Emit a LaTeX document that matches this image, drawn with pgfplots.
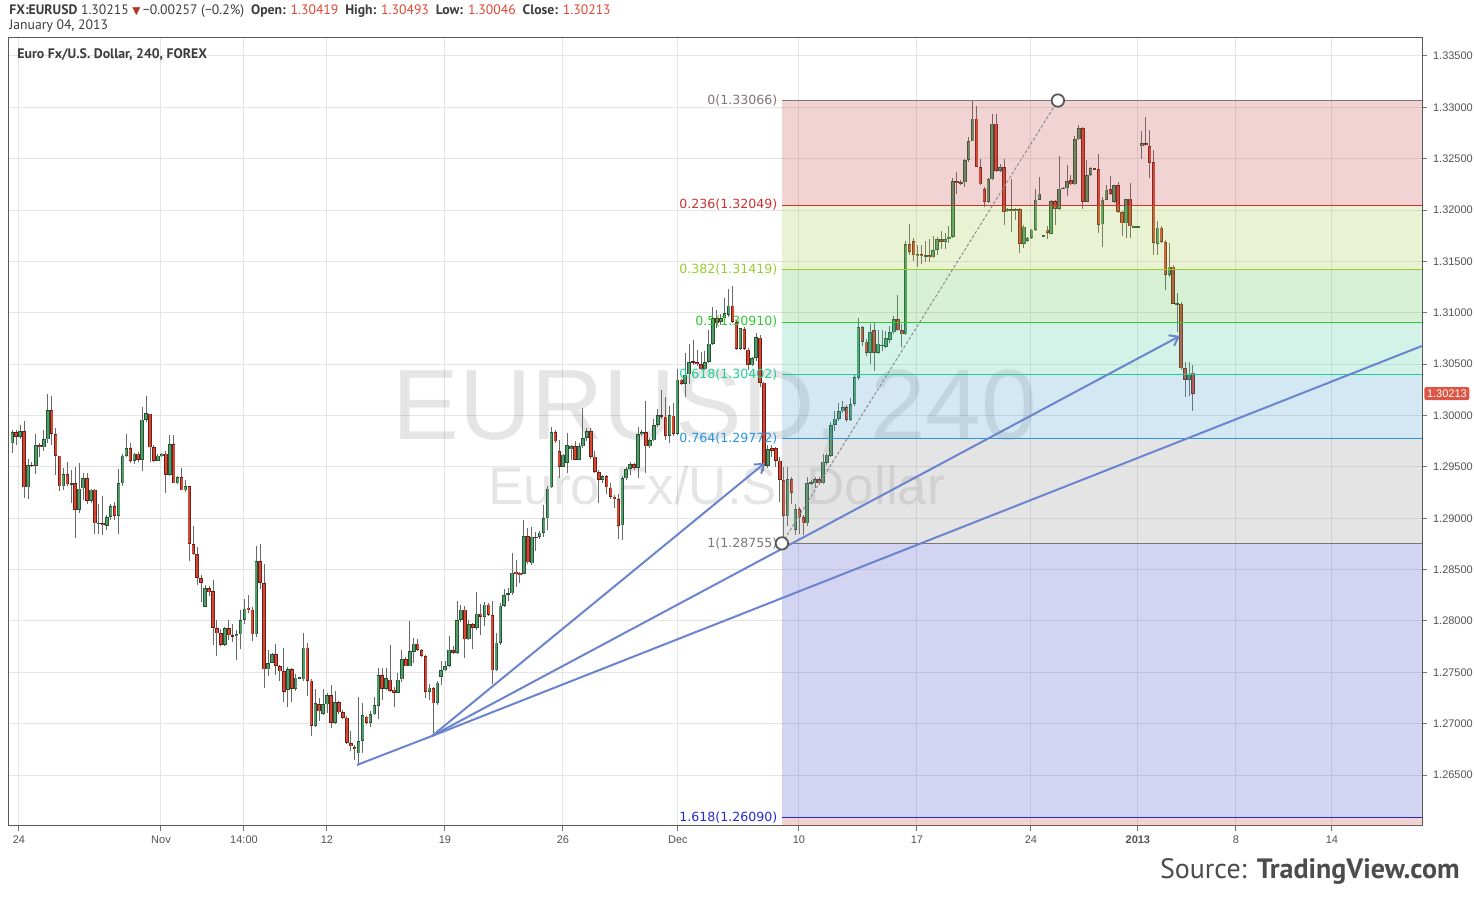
\documentclass[border=0pt]{standalone}
\usepackage{pgfplots}
\pgfplotsset{compat=1.18}
\usepackage{pgfplotstable}
\usepackage{fontspec}
\setmainfont{Liberation Sans}
\newfontfamily\ptsans{PT Sans}
\newfontfamily\dejavu{DejaVu Sans}
\usetikzlibrary{arrows.meta}

% candle colours
\definecolor{upfill}{RGB}{83,155,105}
\definecolor{upline}{RGB}{34,85,52}
\definecolor{dnfill}{RGB}{214,72,52}
\definecolor{dnline}{RGB}{110,30,20}
\definecolor{wick}{RGB}{105,105,105}
\definecolor{gridc}{RGB}{228,228,228}
\definecolor{fan}{RGB}{106,133,206}
% fib bands (drawn at opacity 0.25)
\definecolor{bRed}{RGB}{203,79,79}
\definecolor{bYel}{RGB}{167,207,79}
\definecolor{bGrn}{RGB}{87,195,79}
\definecolor{bMint}{RGB}{79,203,163}
\definecolor{bBlue}{RGB}{79,163,203}
\definecolor{bGray}{RGB}{147,147,147}
\definecolor{bLav}{RGB}{79,79,203}
% fib lines
\definecolor{l0}{RGB}{128,118,118}
\definecolor{l236}{RGB}{204,51,51}
\definecolor{l382}{RGB}{153,204,51}
\definecolor{l5}{RGB}{51,200,51}
\definecolor{l618}{RGB}{34,204,150}
\definecolor{l764}{RGB}{41,150,220}
\definecolor{l1}{RGB}{120,120,120}
\definecolor{l1618}{RGB}{40,40,210}
\definecolor{tagred}{RGB}{221,85,68}
\definecolor{hdred}{RGB}{222,70,50}
\definecolor{hdgray}{RGB}{60,60,60}

% 4h candles, EUR/USD, index i = bar number
\pgfplotstableread{
i O H L C
0 1.2973 1.2986 1.2964 1.2984
1 1.2984 1.2986 1.2971 1.2979
2 1.2979 1.2991 1.2977 1.2985
3 1.2985 1.2995 1.2920 1.2930
4 1.2930 1.2958 1.2919 1.2952
5 1.2952 1.2955 1.2950 1.2951
6 1.2951 1.2982 1.2943 1.2971
7 1.2971 1.2973 1.2960 1.2969
8 1.2969 1.2986 1.2966 1.2977
9 1.2977 1.3021 1.2973 1.3005
10 1.3005 1.3019 1.2971 1.2982
11 1.2982 1.2988 1.2942 1.2961
12 1.2961 1.2961 1.2927 1.2931
13 1.2931 1.2949 1.2927 1.2943
14 1.2943 1.2955 1.2931 1.2933
15 1.2933 1.2947 1.2915 1.2934
16 1.2934 1.2950 1.2881 1.2908
17 1.2908 1.2954 1.2905 1.2929
18 1.2929 1.2944 1.2918 1.2939
19 1.2939 1.2944 1.2914 1.2917
20 1.2917 1.2929 1.2915 1.2928
21 1.2928 1.2928 1.2885 1.2895
22 1.2895 1.2914 1.2885 1.2895
23 1.2895 1.2922 1.2884 1.2893
24 1.2893 1.2903 1.2889 1.2901
25 1.2901 1.2914 1.2898 1.2912
26 1.2912 1.2916 1.2898 1.2902
27 1.2902 1.2948 1.2885 1.2934
28 1.2934 1.2963 1.2931 1.2961
29 1.2961 1.2982 1.2960 1.2968
30 1.2968 1.2973 1.2954 1.2956
31 1.2956 1.2964 1.2953 1.2963
32 1.2963 1.2965 1.2955 1.2957
33 1.2957 1.3008 1.2946 1.2996
34 1.2996 1.3019 1.2994 1.3002
35 1.3002 1.3002 1.2955 1.2969
36 1.2969 1.2971 1.2955 1.2956
37 1.2956 1.2963 1.2956 1.2961
38 1.2961 1.2964 1.2960 1.2963
39 1.2963 1.2966 1.2925 1.2942
40 1.2942 1.2981 1.2941 1.2972
41 1.2972 1.2981 1.2934 1.2934
42 1.2934 1.2941 1.2933 1.2940
43 1.2940 1.2949 1.2927 1.2927
44 1.2927 1.2937 1.2926 1.2931
45 1.2931 1.2931 1.2858 1.2875
46 1.2875 1.2892 1.2864 1.2865
47 1.2865 1.2872 1.2835 1.2842
48 1.2842 1.2845 1.2819 1.2837
49 1.2814 1.2835 1.2814 1.2832
50 1.2832 1.2834 1.2824 1.2828
51 1.2829 1.2840 1.2777 1.2793
52 1.2793 1.2801 1.2766 1.2788
53 1.2788 1.2792 1.2776 1.2777
54 1.2777 1.2794 1.2776 1.2793
55 1.2793 1.2801 1.2781 1.2786
56 1.2786 1.2797 1.2780 1.2785
57 1.2785 1.2791 1.2762 1.2787
58 1.2787 1.2811 1.2773 1.2801
59 1.2801 1.2821 1.2797 1.2812
60 1.2813 1.2825 1.2808 1.2811
61 1.2811 1.2814 1.2781 1.2787
62 1.2787 1.2873 1.2784 1.2858
63 1.2858 1.2875 1.2831 1.2837
64 1.2837 1.2855 1.2735 1.2753
65 1.2753 1.2772 1.2746 1.2759
66 1.2759 1.2769 1.2759 1.2768
67 1.2768 1.2778 1.2747 1.2756
68 1.2756 1.2757 1.2742 1.2751
69 1.2751 1.2774 1.2721 1.2731
70 1.2733 1.2755 1.2716 1.2753
71 1.2753 1.2754 1.2721 1.2734
72 1.2734 1.2748 1.2732 1.2745
73 1.2745 1.2746 1.2744 1.2745
74 1.2743 1.2788 1.2742 1.2774
75 1.2774 1.2779 1.2727 1.2742
76 1.2742 1.2743 1.2688 1.2698
77 1.2698 1.2734 1.2697 1.2720
78 1.2719 1.2725 1.2703 1.2712
79 1.2710 1.2734 1.2708 1.2719
80 1.2719 1.2730 1.2710 1.2728
81 1.2728 1.2738 1.2696 1.2701
82 1.2701 1.2732 1.2700 1.2721
83 1.2721 1.2722 1.2710 1.2711
84 1.2711 1.2713 1.2705 1.2706
85 1.2706 1.2707 1.2680 1.2681
86 1.2681 1.2693 1.2673 1.2678
87 1.2677 1.2679 1.2665 1.2675
88 1.2671 1.2726 1.2660 1.2683
89 1.2683 1.2720 1.2671 1.2708
90 1.2707 1.2708 1.2700 1.2701
91 1.2701 1.2712 1.2697 1.2709
92 1.2709 1.2726 1.2708 1.2718
93 1.2717 1.2754 1.2705 1.2747
94 1.2747 1.2754 1.2723 1.2734
95 1.2734 1.2754 1.2733 1.2744
96 1.2743 1.2777 1.2731 1.2732
97 1.2733 1.2736 1.2716 1.2730
98 1.2730 1.2749 1.2730 1.2743
99 1.2743 1.2772 1.2741 1.2763
100 1.2763 1.2765 1.2756 1.2756
101 1.2756 1.2800 1.2756 1.2771
102 1.2770 1.2783 1.2759 1.2778
103 1.2778 1.2782 1.2771 1.2772
104 1.2772 1.2773 1.2765 1.2766
105 1.2766 1.2767 1.2725 1.2731
106 1.2731 1.2739 1.2723 1.2735
107 1.2735 1.2736 1.2691 1.2720
108 1.2720 1.2742 1.2718 1.2740
109 1.2746 1.2761 1.2738 1.2752
110 1.2752 1.2761 1.2751 1.2756
111 1.2756 1.2785 1.2755 1.2772
112 1.2772 1.2776 1.2768 1.2769
113 1.2769 1.2820 1.2768 1.2801
114 1.2801 1.2816 1.2799 1.2811
115 1.2811 1.2815 1.2764 1.2782
116 1.2782 1.2801 1.2781 1.2797
117 1.2797 1.2798 1.2773 1.2793
118 1.2793 1.2828 1.2791 1.2807
119 1.2807 1.2817 1.2786 1.2804
120 1.2804 1.2819 1.2795 1.2816
121 1.2816 1.2818 1.2805 1.2806
122 1.2806 1.2820 1.2739 1.2752
123 1.2752 1.2788 1.2751 1.2779
124 1.2779 1.2817 1.2777 1.2815
125 1.2815 1.2831 1.2814 1.2825
126 1.2826 1.2832 1.2819 1.2827
127 1.2827 1.2866 1.2825 1.2847
128 1.2848 1.2859 1.2833 1.2846
129 1.2847 1.2848 1.2837 1.2845
130 1.2846 1.2898 1.2846 1.2883
131 1.2883 1.2890 1.2855 1.2857
132 1.2856 1.2892 1.2855 1.2882
133 1.2882 1.2887 1.2868 1.2881
134 1.2882 1.2888 1.2880 1.2886
135 1.2886 1.2913 1.2882 1.2900
136 1.2900 1.2931 1.2889 1.2929
137 1.2930 1.2989 1.2929 1.2984
138 1.2984 1.2986 1.2973 1.2975
139 1.2965 1.2976 1.2939 1.2950
140 1.2950 1.2963 1.2950 1.2962
141 1.2954 1.2983 1.2944 1.2971
142 1.2967 1.2971 1.2957 1.2970
143 1.2970 1.2975 1.2957 1.2957
144 1.2957 1.2973 1.2957 1.2970
145 1.2970 1.3007 1.2968 1.2978
146 1.2978 1.2988 1.2975 1.2985
147 1.2985 1.2988 1.2958 1.2960
148 1.2960 1.2966 1.2944 1.2945
149 1.2945 1.2947 1.2915 1.2937
150 1.2937 1.2942 1.2934 1.2941
151 1.2941 1.2942 1.2924 1.2930
152 1.2930 1.2934 1.2919 1.2921
153 1.2921 1.2923 1.2910 1.2919
154 1.2919 1.2924 1.2880 1.2893
155 1.2893 1.2941 1.2879 1.2939
156 1.2939 1.2950 1.2937 1.2948
157 1.2948 1.2955 1.2942 1.2953
158 1.2953 1.2954 1.2947 1.2949
159 1.2949 1.2989 1.2939 1.2982
160 1.2982 1.2986 1.2980 1.2984
161 1.2984 1.3014 1.2944 1.2970
162 1.2970 1.2978 1.2968 1.2976
163 1.2976 1.2997 1.2975 1.2991
164 1.2991 1.3006 1.2989 1.3000
165 1.3000 1.3025 1.2997 1.2999
166 1.2999 1.3018 1.2976 1.2980
167 1.2980 1.3009 1.2973 1.3000
168 1.3000 1.3012 1.2980 1.2982
169 1.2982 1.3045 1.2981 1.3035
170 1.3035 1.3036 1.3030 1.3031
171 1.3031 1.3061 1.3018 1.3040
172 1.3040 1.3070 1.3031 1.3052
173 1.3053 1.3074 1.3049 1.3052
174 1.3052 1.3064 1.3048 1.3050
175 1.3050 1.3062 1.3044 1.3045
176 1.3045 1.3063 1.3044 1.3052
177 1.3052 1.3083 1.3051 1.3070
178 1.3070 1.3106 1.3069 1.3095
179 1.3095 1.3103 1.3085 1.3090
180 1.3091 1.3099 1.3088 1.3095
181 1.3095 1.3114 1.3093 1.3100
182 1.3098 1.3123 1.3096 1.3107
183 1.3107 1.3126 1.3090 1.3091
184 1.3091 1.3093 1.3064 1.3065
185 1.3065 1.3085 1.3064 1.3085
186 1.3084 1.3086 1.3064 1.3065
187 1.3064 1.3066 1.3044 1.3049
188 1.3049 1.3057 1.3048 1.3056
189 1.3056 1.3080 1.3053 1.3076
190 1.3076 1.3078 1.3028 1.3032
191 1.3032 1.3033 1.2946 1.2951
192 1.2951 1.2971 1.2949 1.2967
193 1.2968 1.2971 1.2960 1.2966
194 1.2968 1.2969 1.2950 1.2956
195 1.2956 1.2960 1.2916 1.2937
196 1.2937 1.2950 1.28755 1.2902
197 1.2902 1.2950 1.2892 1.2938
198 1.2938 1.2940 1.2914 1.2925
199 1.2889 1.2914 1.2884 1.2909
200 1.2909 1.2911 1.2885 1.2901
201 1.2901 1.2903 1.2884 1.2895
202 1.2895 1.2940 1.2893 1.2934
203 1.2934 1.2937 1.2932 1.2935
204 1.2934 1.2940 1.2930 1.2938
205 1.2938 1.2940 1.2932 1.2934
206 1.2934 1.2963 1.2933 1.2955
207 1.2954 1.2964 1.2952 1.2962
208 1.2961 1.2994 1.2960 1.2991
209 1.2991 1.3004 1.2985 1.2997
210 1.2997 1.3012 1.2995 1.3004
211 1.3004 1.3014 1.3002 1.3008
212 1.3008 1.3010 1.2994 1.2996
213 1.2996 1.3017 1.2995 1.3011
214 1.3011 1.3040 1.3009 1.3037
215 1.3037 1.3095 1.3035 1.3086
216 1.3086 1.3087 1.3068 1.3072
217 1.3072 1.3075 1.3058 1.3061
218 1.3061 1.3089 1.3050 1.3081
219 1.3083 1.3090 1.3043 1.3061
220 1.3061 1.3083 1.3060 1.3070
221 1.3068 1.3083 1.3063 1.3069
222 1.3067 1.3082 1.3066 1.3075
223 1.3074 1.3087 1.3071 1.3081
224 1.3081 1.3097 1.3079 1.3094
225 1.3094 1.3117 1.3082 1.3083
226 1.3083 1.3089 1.3067 1.3079
227 1.3079 1.3170 1.3078 1.3167
228 1.3167 1.3186 1.3156 1.3159
229 1.3170 1.3173 1.3150 1.3156
230 1.3155 1.3166 1.3145 1.3157
231 1.3157 1.3166 1.3148 1.3155
232 1.3155 1.3170 1.3149 1.3156
233 1.3156 1.3172 1.3150 1.3154
234 1.3154 1.3175 1.3153 1.3161
235 1.3161 1.3174 1.3156 1.3172
236 1.3172 1.3180 1.3162 1.3169
237 1.3169 1.3178 1.3162 1.3172
238 1.3172 1.3185 1.3168 1.3174
239 1.3174 1.3231 1.3173 1.3228
240 1.3228 1.3237 1.3216 1.3226
241 1.3226 1.3229 1.3224 1.3227
242 1.3227 1.3250 1.3223 1.3249
243 1.3249 1.3271 1.3247 1.3267
244 1.3267 1.33066 1.3267 1.3289
245 1.3289 1.3301 1.3242 1.3242
246 1.3242 1.3250 1.3224 1.3225
247 1.3220 1.3223 1.3203 1.3208
248 1.3208 1.3231 1.3207 1.3230
249 1.3230 1.3294 1.3229 1.3284
250 1.3284 1.3294 1.3237 1.3238
251 1.3238 1.3245 1.3237 1.3242
252 1.3242 1.3250 1.3185 1.3198
253 1.3199 1.3202 1.3198 1.3201
254 1.3201 1.3230 1.3179 1.3199
255 1.3199 1.3202 1.3190 1.3201
256 1.3201 1.3202 1.3158 1.3167
257 1.3167 1.3185 1.3163 1.3184
258 1.3170 1.3174 1.3169 1.3173
259 1.3173 1.3182 1.3172 1.3181
260 1.3181 1.3221 1.3180 1.3210
261 1.3210 1.3232 1.3210 1.3216
262 1.3175 1.3176 1.3174 1.3175
263 1.3181 1.3185 1.3172 1.3178
264 1.3177 1.3210 1.3177 1.3209
265 1.3209 1.3210 1.3185 1.3201
266 1.3201 1.3253 1.3200 1.3221
267 1.3221 1.3222 1.3220 1.3221
268 1.3221 1.3244 1.3214 1.3228
269 1.3229 1.3234 1.3224 1.3225
270 1.3225 1.3272 1.3224 1.3269
271 1.3269 1.3283 1.3268 1.3280
272 1.3280 1.3281 1.3201 1.3208
273 1.3208 1.3249 1.3208 1.3234
274 1.3234 1.3242 1.3233 1.3241
275 1.3241 1.3241 1.3239 1.3240
276 1.3240 1.3255 1.3178 1.3186
277 1.3186 1.3213 1.3164 1.3210
278 1.3210 1.3224 1.3210 1.3220
279 1.3220 1.3233 1.3215 1.3216
280 1.3208 1.3224 1.3207 1.3224
281 1.3224 1.3227 1.3197 1.3198
282 1.3198 1.3199 1.3175 1.3187
283 1.3187 1.3211 1.3173 1.3211
284 1.3211 1.3226 1.3173 1.3184
285 1.3184 1.3185 1.3183 1.3184
286 1.3184 1.3185 1.3183 1.3184
287 1.3262 1.3277 1.3250 1.3265
288 1.3265 1.3291 1.3262 1.3263
289 1.3262 1.3278 1.3231 1.3246
290 1.3247 1.3258 1.3156 1.3168
291 1.3167 1.3189 1.3156 1.3183
292 1.3183 1.3185 1.3168 1.3169
293 1.3169 1.3171 1.3122 1.3137
294 1.3137 1.3168 1.3135 1.3145
295 1.3145 1.3147 1.3109 1.3109
296 1.3109 1.3119 1.3081 1.3109
297 1.3109 1.3110 1.3044 1.3046
298 1.3046 1.3052 1.3018 1.3035
299 1.3035 1.3052 1.3019 1.3040
300 1.30419 1.30493 1.30046 1.30213
}\candles

\pgfplotsset{
  candle/.style={draw=none, no marks, forget plot,
    /pgfplots/error bars/y dir=both, /pgfplots/error bars/y explicit,
    /pgfplots/error bars/error mark=none},
}

\begin{document}
\begin{tikzpicture}
\begin{axis}[
  at={(4.5pt,35.5pt)}, anchor=south west,
  scale only axis, width=706.5pt, height=394pt,
  xmin=-0.84, xmax=358.2, ymin=1.26004, ymax=1.33675,
  clip=false,
  axis line style={draw=black!65, line width=0.5pt},
  grid=major, major grid style={gridc, line width=0.5pt},
  tick align=outside, major tick length=2.5pt,
  tick style={black!55, line width=0.5pt},
  xtick pos=bottom, ytick pos=right, yticklabel pos=right,
  xtick={1.7,37.78,58.87,79.96,109.94,139.92,169.14,199.88,229.86,258.83,286.0,310.9,335.3},
  xticklabels={24,Nov,14:00,12,19,26,Dec,10,17,24,\textbf{2013},8,14},
  ytick={1.265,1.27,1.275,1.28,1.285,1.29,1.295,1.30,1.305,1.31,1.315,1.32,1.325,1.33,1.335},
  scaled y ticks=false,
  ticklabel style={font=\fontsize{5.5}{6}\selectfont, text=black!68},
  xticklabel style={yshift=1.2pt},
  yticklabel style={xshift=-0.5pt, /pgf/number format/fixed, /pgf/number format/fixed zerofill,
    /pgf/number format/precision=5, /pgf/number format/assume math mode=true},
]
% watermark
\node[text=black, text opacity=0.1, font=\fontsize{50}{50}\selectfont, anchor=base] at (axis cs:178.5,1.29762) {EURUSD, 240};
\node[text=black, text opacity=0.1, font=\fontsize{26.5}{27}\selectfont, anchor=base] at (axis cs:179,1.29129) {Euro Fx/U.S. Dollar};

% wicks
\addplot[candle, /pgfplots/error bars/error bar style={line width=0.5pt, draw=wick}]
  table[x=i, y expr={(\thisrow{H}+\thisrow{L})/2}, y error expr={(\thisrow{H}-\thisrow{L})/2}] {\candles};
% up bodies
\addplot[candle, restrict expr to domain={\thisrow{C}-\thisrow{O}}{0:1},
  /pgfplots/error bars/error bar style={line width=1.8pt, draw=upline}]
  table[x=i, y expr={(\thisrow{O}+\thisrow{C})/2}, y error expr={max(abs(\thisrow{C}-\thisrow{O})/2,0.00006)}] {\candles};
\addplot[candle, restrict expr to domain={\thisrow{C}-\thisrow{O}}{0:1},
  /pgfplots/error bars/error bar style={line width=1pt, draw=upfill}]
  table[x=i, y expr={(\thisrow{O}+\thisrow{C})/2}, y error expr={max(abs(\thisrow{C}-\thisrow{O})/2-0.00007,0)}] {\candles};
% down bodies
\addplot[candle, restrict expr to domain={\thisrow{C}-\thisrow{O}}{-1:-0.00001},
  /pgfplots/error bars/error bar style={line width=1.8pt, draw=dnline}]
  table[x=i, y expr={(\thisrow{O}+\thisrow{C})/2}, y error expr={max(abs(\thisrow{C}-\thisrow{O})/2,0.00006)}] {\candles};
\addplot[candle, restrict expr to domain={\thisrow{C}-\thisrow{O}}{-1:-0.00001},
  /pgfplots/error bars/error bar style={line width=1pt, draw=dnfill}]
  table[x=i, y expr={(\thisrow{O}+\thisrow{C})/2}, y error expr={max(abs(\thisrow{C}-\thisrow{O})/2-0.00007,0)}] {\candles};

% fibonacci bands
\addplot[draw=none, fill=bRed, fill opacity=0.25, forget plot] coordinates {(195.55,1.32049) (358.2,1.32049) (358.2,1.33066) (195.55,1.33066)} --cycle;
\addplot[draw=none, fill=bYel, fill opacity=0.25, forget plot] coordinates {(195.55,1.31419) (358.2,1.31419) (358.2,1.32049) (195.55,1.32049)} --cycle;
\addplot[draw=none, fill=bGrn, fill opacity=0.25, forget plot] coordinates {(195.55,1.30910) (358.2,1.30910) (358.2,1.31419) (195.55,1.31419)} --cycle;
\addplot[draw=none, fill=bMint, fill opacity=0.25, forget plot] coordinates {(195.55,1.30402) (358.2,1.30402) (358.2,1.30910) (195.55,1.30910)} --cycle;
\addplot[draw=none, fill=bBlue, fill opacity=0.25, forget plot] coordinates {(195.55,1.29772) (358.2,1.29772) (358.2,1.30402) (195.55,1.30402)} --cycle;
\addplot[draw=none, fill=bGray, fill opacity=0.25, forget plot] coordinates {(195.55,1.28755) (358.2,1.28755) (358.2,1.29772) (195.55,1.29772)} --cycle;
\addplot[draw=none, fill=bLav, fill opacity=0.25, forget plot] coordinates {(195.55,1.26090) (358.2,1.26090) (358.2,1.28755) (195.55,1.28755)} --cycle;
\addplot[draw=none, fill=bRed, fill opacity=0.25, forget plot] coordinates {(195.55,1.26004) (358.2,1.26004) (358.2,1.26090) (195.55,1.26090)} --cycle;

% fibonacci levels
\addplot[l0, line width=0.5pt] coordinates {(195.55,1.33066) (358.2,1.33066)};
\addplot[l236, line width=0.5pt] coordinates {(195.55,1.32049) (358.2,1.32049)};
\addplot[l382, line width=0.5pt] coordinates {(195.55,1.31419) (358.2,1.31419)};
\addplot[l5, line width=0.5pt] coordinates {(195.55,1.30910) (358.2,1.30910)};
\addplot[l618, line width=0.5pt] coordinates {(195.55,1.30402) (358.2,1.30402)};
\addplot[l764, line width=0.5pt] coordinates {(195.55,1.29772) (358.2,1.29772)};
\addplot[l1, line width=0.5pt] coordinates {(195.55,1.28755) (358.2,1.28755)};
\addplot[l1618, line width=0.5pt] coordinates {(195.55,1.26090) (358.2,1.26090)};

\begin{scope}[every node/.style={anchor=east, inner sep=0pt, font=\dejavu\fontsize{6.3}{7}\selectfont}]
\node[text=l0] at (axis cs:194.5,1.33066) {0(1.33066)};
\node[text=l236] at (axis cs:194.5,1.32049) {0.236(1.32049)};
\node[text=l382] at (axis cs:194.5,1.31419) {0.382(1.31419)};
\node[text=l5] at (axis cs:194.5,1.30910) {0.5(1.30910)};
\node[text=l618] at (axis cs:194.5,1.30402) {0.618(1.30402)};
\node[text=l764] at (axis cs:194.5,1.29772) {0.764(1.29772)};
\node[text=l1] at (axis cs:194.5,1.28755) {1(1.28755)};
\node[text=l1618] at (axis cs:194.5,1.26090) {1.618(1.26090)};
\end{scope}

% fan lines
\addplot[fan, line width=1pt] coordinates {(87.57,1.26598) (106.63,1.26880)};
\addplot[fan, line width=1pt, -{Straight Barb[length=4pt,width=6pt]}] coordinates {(106.63,1.26880) (191.24,1.29538)};
\addplot[fan, line width=1pt, -{Straight Barb[length=4pt,width=6pt]}] coordinates {(106.63,1.26880) (296.67,1.30774)};
\addplot[fan, line width=1pt] coordinates {(106.63,1.26880) (358.2,1.30677)};

% fib trend line
\addplot[black!45, line width=0.5pt, dash pattern=on 1.5pt off 1pt] coordinates {(195.55,1.28755) (265.68,1.33066)};
\addplot[only marks, mark=*, mark size=3.1pt, mark options={fill=white, draw=black!65, line width=0.9pt}] coordinates {(195.55,1.28755) (265.68,1.33066)};

% last price tag
\node[anchor=west, fill=tagred, text=white, rounded corners=1pt, inner sep=1.3pt,
  font=\fontsize{5.5}{6}\selectfont, xshift=1pt] at (axis cs:358.2,1.30213) {1.30213};
\end{axis}

% header and footer text
\node[anchor=base west, inner sep=0pt, text=hdgray, font=\ptsans\fontsize{6.85}{7.5}\selectfont] at (4.5pt,441pt)
  {\textbf{FX:EURUSD} 1.30215 {\dejavu\fontsize{5.3}{6}\selectfont\textcolor{hdred!80!black}{▼}}\,−0.00257 (−0.2\%)\enspace
   \textbf{Open:} \textcolor{hdred}{1.30419}\enspace \textbf{High:} \textcolor{hdred}{1.30493}\enspace
   \textbf{Low:} \textcolor{hdred}{1.30046}\enspace \textbf{Close:} \textcolor{hdred}{1.30213}};
\node[anchor=base west, inner sep=0pt, text=hdgray, font=\ptsans\fontsize{6.85}{7.5}\selectfont] at (4.5pt,433.5pt) {January 04, 2013};
\node[anchor=base west, inner sep=0pt, text=hdgray, font=\ptsans\bfseries\fontsize{6.9}{7.5}\selectfont] at (8.5pt,419pt) {Euro Fx/U.S. Dollar, 240, FOREX};
\node[anchor=base east, inner sep=0pt, text=black!70, font=\ptsans\fontsize{14}{16}\selectfont] at (730pt,9pt) {Source: \textbf{TradingView.com}};

\pgfresetboundingbox
\path[use as bounding box] (0,0) rectangle (737pt,448.5pt);
\end{tikzpicture}
\end{document}
